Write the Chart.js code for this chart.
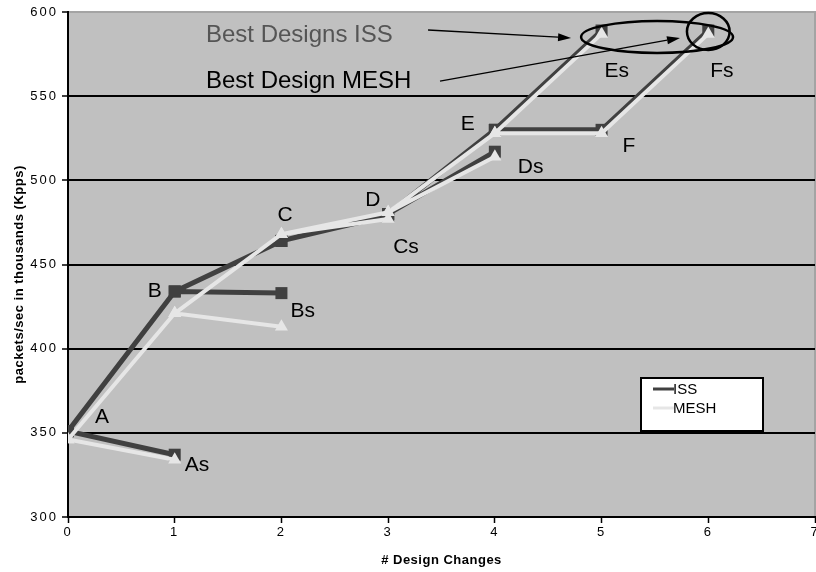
<!DOCTYPE html>
<html>
<head>
<meta charset="utf-8">
<title>Design changes - ISS vs MESH</title>
<script src="https://cdn.jsdelivr.net/npm/chart.js@4.4.1/dist/chart.umd.min.js"></script>
<style>
    html, body { margin: 0; padding: 0; background: #fff; overflow: hidden; }
    #wrap { position: relative; width: 816px; height: 572px; }
    #designChart { display: block; }
</style>
</head>
<body>
<div id="wrap"><canvas id="designChart"></canvas></div>
<script>
// design points (tree of design changes)
const nodes = ['A', 'As', 'B', 'Bs', 'C', 'Cs', 'D', 'Ds', 'E', 'Es', 'F', 'Fs'];
const designChanges = [0, 1, 1, 2, 2, 3, 3, 4, 4, 5, 5, 6];
const issKpps = [351, 337, 434, 433, 464, 479, 480, 517, 530, 589, 530, 589];
const meshKpps = [346, 334, 421, 413, 468, 477, 481, 514, 528, 587, 528, 587];

// each branch is drawn as its own polyline
const branches = [
    ['A', 'As'],
    ['A', 'B', 'Bs'],
    ['B', 'C', 'Cs'],
    ['C', 'D', 'Ds'],
    ['D', 'E', 'Es'],
    ['E', 'F', 'Fs']
];

const yTicks = [300, 350, 400, 450, 500, 550, 600];
const xTitle = '# Design Changes';
const yTitle = 'packets/sec in thousands (Kpps)';

// label offsets in px from the ISS point
const labelOffsets = {
    A: [27, -8], As: [10, 16], B: [-27, 6], Bs: [9, 24],
    C: [-4, -20], Cs: [5, 37], D: [-23, -8], Ds: [23, 21],
    E: [-34, 0], Es: [3, 46], F: [21, 22], Fs: [2, 46]
};

const FONT = '"Liberation Sans", Arial, sans-serif';

function buildPath(values) {
    const pts = [];
    branches.forEach(function(branch) {
        branch.forEach(function(name) {
            const i = nodes.indexOf(name);
            pts.push({ x: designChanges[i], y: values[i] });
        });
        // break the line between branches
        const last = nodes.indexOf(branch[branch.length - 1]);
        pts.push({ x: designChanges[last], y: null });
    });
    return pts;
}

// stretch the plot to the right edge (chart.js keeps room for the "7" label)
const fullWidth = {
    id: 'fullWidth',
    afterLayout: function(chart) {
        const right = chart.width - 1;
        const xs = chart.scales.x;
        chart.chartArea.right = right;
        chart.chartArea.width = right - chart.chartArea.left;
        xs.right = right;
        xs.width = right - xs.left;
        xs.configure();
    }
};

const plotBackground = {
    id: 'plotBackground',
    beforeDraw: function(chart) {
        const a = chart.chartArea;
        const ctx = chart.ctx;
        ctx.save();
        ctx.fillStyle = '#c0c0c0';
        ctx.fillRect(a.left, a.top, a.right - a.left, a.bottom - a.top);
        ctx.strokeStyle = '#a4a4a4';
        ctx.lineWidth = 2;
        ctx.beginPath();
        ctx.moveTo(a.left, a.top);
        ctx.lineTo(a.right, a.top);
        ctx.lineTo(a.right, a.bottom);
        ctx.stroke();
        ctx.restore();
        // tick labels in the original are widely spaced
        ctx.letterSpacing = '2px';
    },
    beforeDatasetsDraw: function(chart) {
        chart.ctx.letterSpacing = '0px';
    }
};

function arrow(ctx, x1, y1, x2, y2) {
    const ang = Math.atan2(y2 - y1, x2 - x1);
    const len = 13, half = 4;
    ctx.beginPath();
    ctx.moveTo(x1, y1);
    ctx.lineTo(x2 - Math.cos(ang) * len, y2 - Math.sin(ang) * len);
    ctx.stroke();
    ctx.beginPath();
    ctx.moveTo(x2, y2);
    ctx.lineTo(x2 - Math.cos(ang) * len - Math.sin(ang) * half, y2 - Math.sin(ang) * len + Math.cos(ang) * half);
    ctx.lineTo(x2 - Math.cos(ang) * len + Math.sin(ang) * half, y2 - Math.sin(ang) * len - Math.cos(ang) * half);
    ctx.closePath();
    ctx.fill();
}

const annotations = {
    id: 'annotations',
    afterDatasetsDraw: function(chart) {
        const ctx = chart.ctx;
        const xs = chart.scales.x, ys = chart.scales.y;
        const px = v => xs.getPixelForValue(v);
        const py = v => ys.getPixelForValue(v);
        ctx.save();

        // point labels
        ctx.fillStyle = '#000';
        ctx.font = '21px ' + FONT;
        ctx.textBaseline = 'alphabetic';
        nodes.forEach(function(name, i) {
            const off = labelOffsets[name];
            ctx.fillText(name, px(designChanges[i]) + off[0], py(issKpps[i]) + off[1]);
        });

        // callout texts
        ctx.font = '24px ' + FONT;
        ctx.fillStyle = '#555';
        ctx.fillText('Best Designs ISS', px(1.293), py(582.2));
        ctx.fillStyle = '#000';
        ctx.fillText('Best Design MESH', px(1.293), py(554.9));

        // arrows
        ctx.strokeStyle = '#000';
        ctx.lineWidth = 1.3;
        arrow(ctx, px(3.374), py(589.3), px(4.714), py(584.6));
        arrow(ctx, px(3.486), py(559.0), px(5.735), py(584.6));

        // ellipse around best designs, circle around Fs
        ctx.lineWidth = 2.5;
        ctx.beginPath();
        ctx.ellipse(px(5.52), py(585.2), px(5.52) - px(4.808), py(585.2) - py(594.7), 0, 0, Math.PI * 2);
        ctx.stroke();
        ctx.beginPath();
        ctx.ellipse(px(6.0), py(588.4), px(6.0) - px(5.8), py(588.4) - py(599.4), 0, 0, Math.PI * 2);
        ctx.stroke();
        ctx.restore();
    }
};

// axis titles and the legend box inside the plot area
const boxLegend = {
    id: 'boxLegend',
    afterDraw: function(chart) {
        const ctx = chart.ctx;
        const a = chart.chartArea;
        ctx.save();
        ctx.letterSpacing = '0.5px';
        ctx.fillStyle = '#000';
        ctx.font = 'bold 13px ' + FONT;
        ctx.textAlign = 'center';
        ctx.textBaseline = 'middle';
        ctx.fillText(xTitle, (a.left + a.right) / 2, 560);
        ctx.save();
        ctx.translate(19, (a.top + a.bottom) / 2 + 10);
        ctx.rotate(-Math.PI / 2);
        ctx.fillText(yTitle, 0, 0);
        ctx.restore();
        ctx.letterSpacing = '0px';
        ctx.textAlign = 'left';

        const x = a.right - 174, y = a.bottom - 139, w = 122, h = 53;
        ctx.fillStyle = '#fff';
        ctx.fillRect(x, y, w, h);
        ctx.strokeStyle = '#000';
        ctx.lineWidth = 2;
        ctx.strokeRect(x, y, w, h);
        ctx.fillStyle = '#000';
        ctx.fillRect(x, y + h - 1, w + 1, 3);
        ctx.font = '15px ' + FONT;
        chart.data.datasets.forEach(function(ds, i) {
            const ly = y + 11 + i * 19;
            ctx.strokeStyle = ds.borderColor;
            ctx.lineWidth = 3;
            ctx.beginPath();
            ctx.moveTo(x + 12, ly);
            ctx.lineTo(x + 33, ly);
            ctx.stroke();
            ctx.fillStyle = '#000';
            ctx.fillText(ds.label, x + 32, ly + 1);
        });
        ctx.restore();
    }
};

const ctx = document.getElementById('designChart').getContext('2d');
const designChart = new Chart(ctx, {
    type: 'line',
    data: {
        datasets: [{
            label: 'ISS',
            data: buildPath(issKpps),
            borderColor: '#404040',
            backgroundColor: '#404040',
            borderWidth: 5,
            pointStyle: 'rect',
            pointRadius: 8.5,
            pointBorderWidth: 0,
            spanGaps: false,
            order: 2
        }, {
            label: 'MESH',
            data: buildPath(meshKpps),
            borderColor: '#e6e6e6',
            backgroundColor: '#e6e6e6',
            borderWidth: 4,
            pointStyle: 'triangle',
            pointRadius: 7.5,
            pointBorderWidth: 0,
            spanGaps: false,
            order: 1
        }]
    },
    options: {
        responsive: true,
        maintainAspectRatio: false,
        animation: false,
        layout: { padding: { top: 12, right: 1, bottom: 0, left: 0 } },
        plugins: {
            legend: { display: false },
            tooltip: { enabled: false }
        },
        scales: {
            x: {
                type: 'linear',
                min: 0,
                max: 7,
                ticks: {
                    stepSize: 1,
                    color: '#000',
                    padding: 2,
                    font: { family: FONT, size: 13 }
                },
                grid: { drawOnChartArea: false, tickLength: 6, tickColor: '#000', tickWidth: 1.5 },
                border: { color: '#000', width: 2 },
                afterFit: function(scale) { scale.height = 55; }
            },
            y: {
                min: 300,
                max: 600,
                afterBuildTicks: function(scale) {
                    scale.ticks = yTicks.map(v => ({ value: v }));
                },
                ticks: {
                    color: '#000',
                    padding: 4,
                    font: { family: FONT, size: 13 }
                },
                grid: {
                    color: function(c) {
                        const v = c.tick ? c.tick.value : null;
                        return (v === 300 || v === 600) ? 'rgba(0,0,0,0)' : '#000';
                    },
                    lineWidth: 2,
                    tickLength: 6,
                    tickColor: '#000',
                    tickWidth: 1.5
                },
                border: { color: '#000', width: 2 },
                afterFit: function(scale) { scale.width = 68; }
            }
        }
    },
    plugins: [fullWidth, plotBackground, annotations, boxLegend]
});
</script>
</body>
</html>
